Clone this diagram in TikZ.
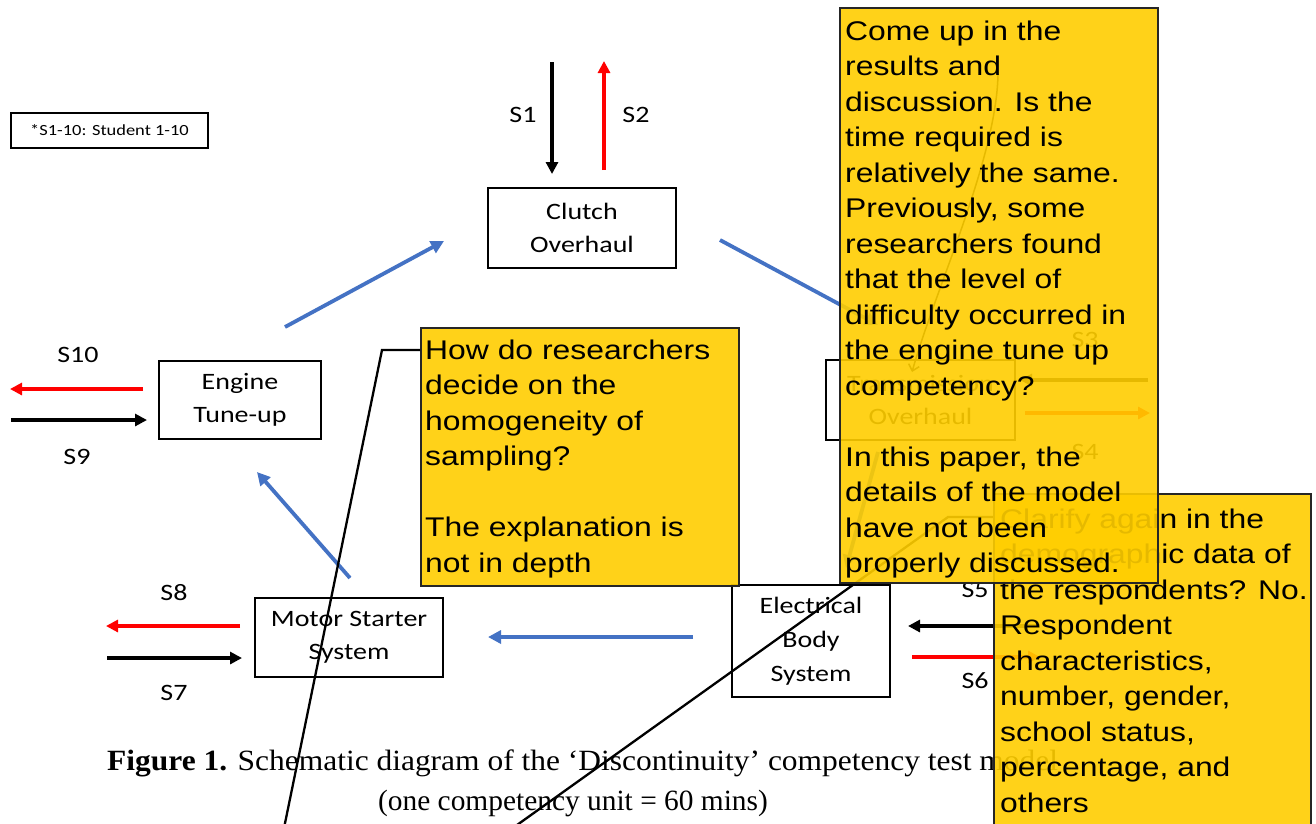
\documentclass[tikz,border=0pt]{standalone}
\usepackage{fontspec}
\setmainfont{Carlito}
\newfontfamily\diagf[FakeStretch=1.19]{Carlito}
\newfontfamily\commf[FakeStretch=1.18]{Liberation Sans}
\newfontfamily\capf{Liberation Serif}
\newfontfamily\capwf[FakeStretch=1.07]{Liberation Serif}
\usetikzlibrary{arrows.meta}
\definecolor{blueA}{HTML}{4472C4}
\definecolor{yelA}{RGB}{255,206,0}
\definecolor{redA}{RGB}{255,0,0}
\begin{document}
\begin{tikzpicture}[x=1pt,y=-1pt,
  dbox/.style={draw=black,line width=1.8pt,fill=white,inner sep=0,align=center,font=\diagf\fontsize{23.5}{33}\selectfont},
  slbl/.style={inner sep=0,font=\diagf\fontsize{23.5}{28}\selectfont},
  sarr/.style={line width=3.2pt,-{Triangle[length=12pt,width=12pt]}},
  barr/.style={draw=blueA,line width=3.8pt,-{Triangle[length=13pt,width=13pt]}},
  ybox/.style={draw=black!85,line width=2.2pt,fill=yelA,fill opacity=0.9,draw opacity=1,inner sep=0},
  ytext/.style={anchor=base west,inner sep=0,font=\commf\fontsize{27}{35.5}\selectfont},
  callout/.style={draw=black,line width=2.3pt}
]
\fill[white] (0,0) rectangle (1316,823);
\useasboundingbox (0,0) rectangle (1316,823);

% ---- diagram boxes
\node[dbox,line width=1.5pt,minimum width=197pt,minimum height=35pt,font=\diagf\fontsize{15.5}{18}\selectfont] (note) at (109.5,130.5) {*S1-10: Student 1-10};
\node[dbox,minimum width=188pt,minimum height=80pt] (clutch) at (582,228) {Clutch\\Overhaul};
\node[dbox,minimum width=162pt,minimum height=78pt] (engine) at (240,400) {Engine\\Tune-up};
\node[dbox,minimum width=188pt,minimum height=79pt] (motor) at (349,637.5) {Motor Starter\\System};
\node[dbox,minimum width=158pt,minimum height=112pt,font=\diagf\fontsize{23.5}{34}\selectfont] (elec) at (811,641) {Electrical\\Body\\System};
\node[dbox,minimum width=189pt,minimum height=80pt] (trans) at (920.5,400) {Transmission\\Overhaul};

% ---- student arrows
\coordinate (s1a) at (552,62);  \coordinate (s1b) at (552,174);
\coordinate (s2a) at (604,170); \coordinate (s2b) at (604,61);
\draw[sarr] (s1a) -- (s1b);
\draw[sarr,redA] (s2a) -- (s2b);
\node[slbl] (l1) at (523,115) {S1};
\node[slbl] (l2) at (636,115) {S2};

\coordinate (s10a) at (143,389); \coordinate (s10b) at (10,389);
\coordinate (s9a) at (11,420);   \coordinate (s9b) at (147,420);
\draw[sarr,redA] (s10a) -- (s10b);
\draw[sarr] (s9a) -- (s9b);
\node[slbl] (l10) at (78,355) {S10};
\node[slbl] (l9) at (77,457) {S9};

\coordinate (s8a) at (240,626); \coordinate (s8b) at (106,626);
\coordinate (s7a) at (107,658); \coordinate (s7b) at (242,658);
\draw[sarr,redA] (s8a) -- (s8b);
\draw[sarr] (s7a) -- (s7b);
\node[slbl] (l8) at (174,593) {S8};
\node[slbl] (l7) at (174,693) {S7};

\coordinate (s5a) at (1040,626); \coordinate (s5b) at (908,626);
\coordinate (s6a) at (912,657);  \coordinate (s6b) at (1040,657);
\draw[sarr] (s5a) -- (s5b);
\draw[sarr,redA] (s6a) -- (s6b);
\node[slbl] (l5) at (975,590) {S5};
\node[slbl] (l6) at (975,681) {S6};

\coordinate (s3a) at (1148,380); \coordinate (s3b) at (1020,380);
\coordinate (s4a) at (1025,413); \coordinate (s4b) at (1150,413);
\draw[sarr] (s3a) -- (s3b);
\draw[sarr,redA] (s4a) -- (s4b);
\node[slbl] (l3) at (1085,340) {S3};
\node[slbl] (l4) at (1085,452) {S4};

% ---- blue flow arrows
\coordinate (b1a) at (285,327); \coordinate (b1b) at (444,241);
\coordinate (b2a) at (720,240); \coordinate (b2b) at (878,325);
\coordinate (b3a) at (878,452); \coordinate (b3b) at (846,568);
\coordinate (b4a) at (693,637); \coordinate (b4b) at (488,637);
\coordinate (b5a) at (350,578); \coordinate (b5b) at (257,472);
\draw[barr] (b1a) -- (b1b);
\draw[barr] (b2a) -- (b2b);
\draw[barr] (b3a) -- (b3b);
\draw[barr] (b4a) -- (b4b);
\draw[barr] (b5a) -- (b5b);

% faint hand line under the comment
\coordinate (h1) at (998,75); \coordinate (h2) at (912,372);
\draw[line width=1.5pt,-{Straight Barb[length=6pt,width=11pt]}] (h1) .. controls (996,160) and (935,290) .. (h2);

% ---- caption
\node[anchor=base west,inner sep=0,font=\capwf\fontsize{29.4}{35}\selectfont] (cap1) at (107,770) {\textbf{Figure 1.} Schematic diagram of the ‘Discontinuity’ competency test model};
\node[anchor=base,inner sep=0,font=\capf\fontsize{29.4}{35}\selectfont] (cap2) at (573,810) {(one competency unit = 60 mins)};

% ---- comment 3
\coordinate (c3b) at (948,517); \coordinate (c3c) at (510,830);
\node[ybox,anchor=north west,minimum width=317pt,minimum height=347pt] (box3) at (993,493) {};
\draw[callout] (box3.west |- c3b) -- (c3b) -- (c3c);
\node[ytext] (t3) at (1000,528) {\parbox[t]{330pt}{\raggedright
Clarify again in the\\ demographic data of\\ the respondents? No.\\ Respondent\\ characteristics,\\ number, gender,\\ school status,\\ percentage, and\\ others}};

% ---- comment 2
\node[ybox,anchor=north west,minimum width=318pt,minimum height=575pt] (box2) at (839,7) {};
\node[ytext] (t2) at (845,40) {\parbox[t]{330pt}{\raggedright
Come up in the\\ results and\\ discussion. Is the\\ time required is\\ relatively the same.\\ Previously, some\\ researchers found\\ that the level of\\ difficulty occurred in\\ the engine tune up\\ competency?\\[35.5pt] In this paper, the\\ details of the model\\ have not been\\ properly discussed.}};

% ---- comment 1
\coordinate (c1b) at (382,350); \coordinate (c1c) at (283,833);
\node[ybox,anchor=north west,minimum width=318pt,minimum height=258pt] (box1) at (420,327) {};
\draw[callout] (box1.west |- c1b) -- (c1b) -- (c1c);
\node[ytext] (t1) at (425,359) {\parbox[t]{330pt}{\raggedright
How do researchers\\ decide on the\\ homogeneity of\\ sampling?\\[35.5pt] The explanation is\\ not in depth}};
\end{tikzpicture}
\end{document}
